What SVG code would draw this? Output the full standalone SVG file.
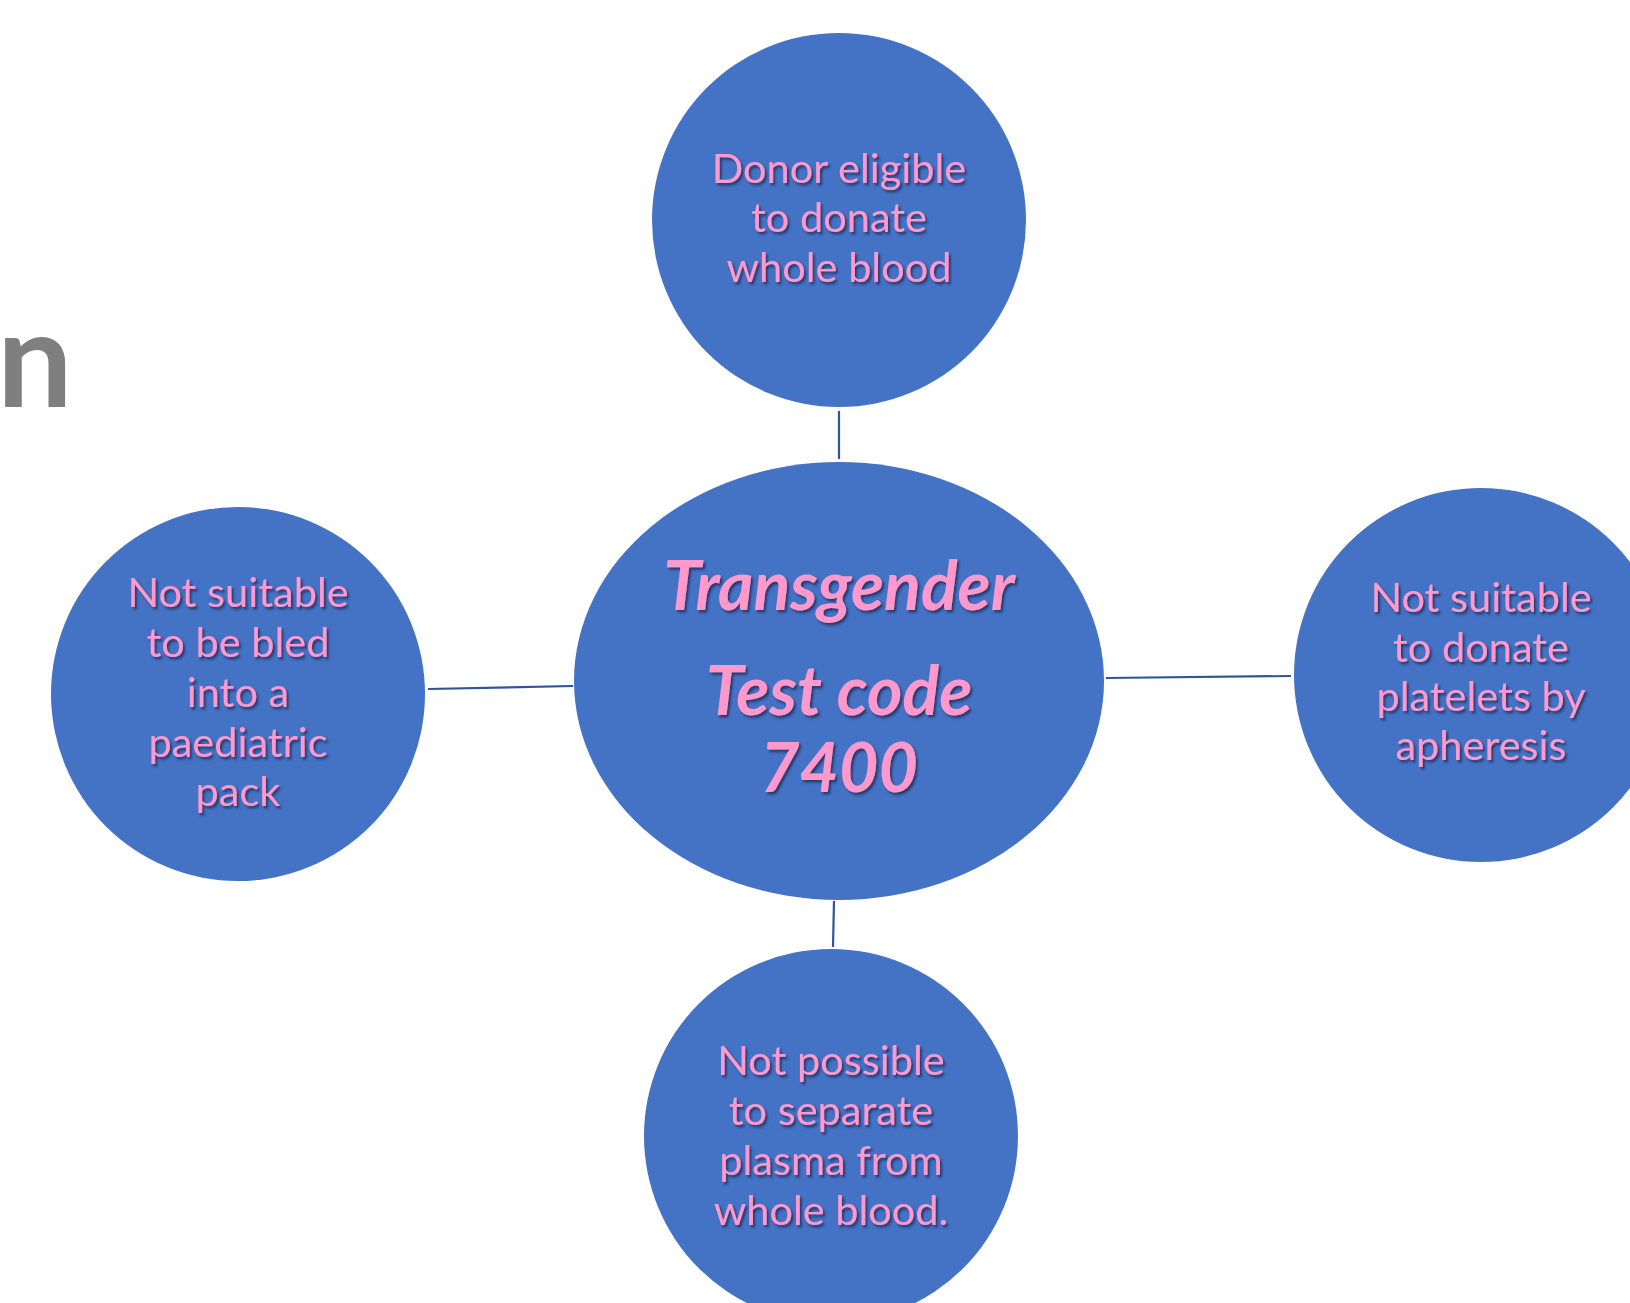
<svg xmlns="http://www.w3.org/2000/svg" width="1630" height="1303" viewBox="0 0 1630 1303">
  <defs>
    <filter id="ts" x="-10%" y="-30%" width="120%" height="160%">
      <feDropShadow dx="2" dy="2.5" stdDeviation="1.2" flood-color="#1a2a55" flood-opacity="0.75"/>
    </filter>
    <style>
      .node { fill: #4472C4; }
      .lbl { font-family: Lato, "Open Sans", "Liberation Sans", sans-serif; font-size: 41.5px; fill: #FF99CC; text-anchor: middle; filter: url(#ts); }
      .main { font-family: Lato, "Open Sans", "Liberation Sans", sans-serif; font-size: 68px; font-weight: bold; font-style: italic; fill: #FF99CC; text-anchor: middle; filter: url(#ts); }
      .conn { stroke: #2F5597; stroke-width: 2.2; fill: none; }
      .title { font-family: Lato, "Open Sans", "Liberation Sans", sans-serif; font-size: 134px; font-weight: bold; fill: #7F7F7F; }
    </style>
  </defs>
  <rect width="1630" height="1303" fill="#FFFFFF"/>
  <text class="title" x="-3" y="407">n</text>

  <g id="connectors">
    <line class="conn" x1="839" y1="411" x2="839" y2="459"/>
    <line class="conn" x1="428" y1="689" x2="573" y2="686"/>
    <line class="conn" x1="1106" y1="678" x2="1291" y2="676"/>
    <line class="conn" x1="834" y1="901" x2="833" y2="947"/>
  </g>

  <g id="node-top">
    <circle class="node" cx="839" cy="220" r="187"/>
    <text class="lbl" x="839" y="183">Donor eligible</text>
    <text class="lbl" x="839" y="232">to donate</text>
    <text class="lbl" x="839" y="282">whole blood</text>
  </g>

  <g id="node-center">
    <ellipse class="node" cx="839" cy="681" rx="265" ry="219"/>
    <text class="main" x="839" y="610">Transgender</text>
    <text class="main" x="839" y="715">Test code</text>
    <text class="main" x="839" y="792">7400</text>
  </g>

  <g id="node-left">
    <circle class="node" cx="238" cy="694" r="187"/>
    <text class="lbl" x="238" y="607">Not suitable</text>
    <text class="lbl" x="238" y="657">to be bled</text>
    <text class="lbl" x="238" y="707">into a</text>
    <text class="lbl" x="238" y="757">paediatric</text>
    <text class="lbl" x="238" y="806">pack</text>
  </g>

  <g id="node-right">
    <circle class="node" cx="1481" cy="675" r="187"/>
    <text class="lbl" x="1481" y="612">Not suitable</text>
    <text class="lbl" x="1481" y="662">to donate</text>
    <text class="lbl" x="1481" y="711">platelets by</text>
    <text class="lbl" x="1481" y="760">apheresis</text>
  </g>

  <g id="node-bottom">
    <circle class="node" cx="831" cy="1136" r="187"/>
    <text class="lbl" x="831" y="1075">Not possible</text>
    <text class="lbl" x="831" y="1125">to separate</text>
    <text class="lbl" x="831" y="1175">plasma from</text>
    <text class="lbl" x="831" y="1225">whole blood.</text>
  </g>
</svg>
